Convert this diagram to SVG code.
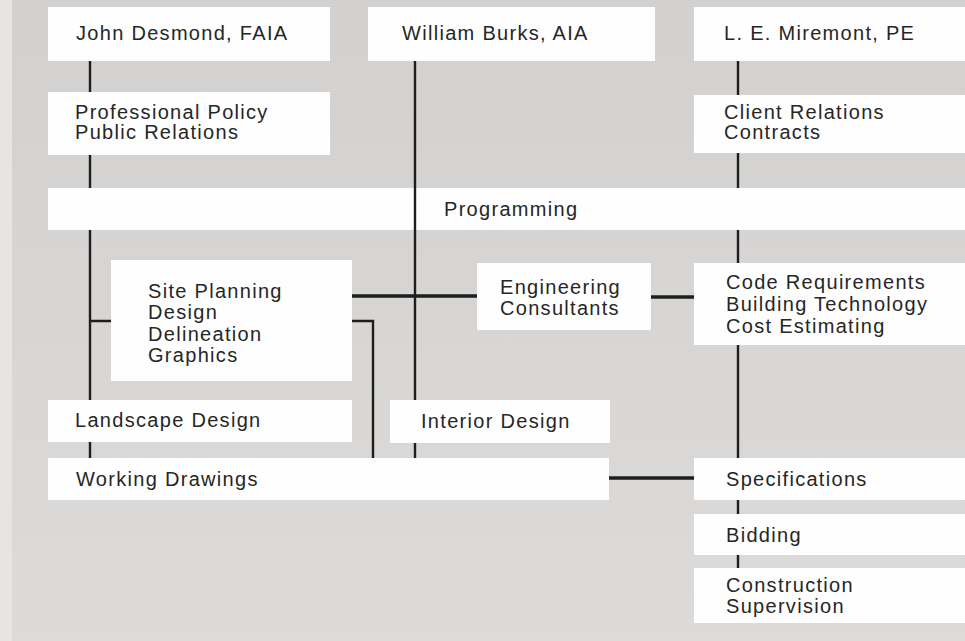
<svg xmlns="http://www.w3.org/2000/svg" width="965" height="641" viewBox="0 0 965 641">
<style>
.box{fill:#fefefe}
.t{font-family:"Liberation Sans",Arial,sans-serif;font-size:20px;fill:#262626;letter-spacing:1.3px}
.ln{stroke:#1e1e1e;stroke-width:2.4;fill:none}
.th{stroke:#1e1e1e;stroke-width:3.6;fill:none}
</style>
<defs>
<linearGradient id="bg" x1="0" y1="0" x2="0" y2="1">
<stop offset="0" stop-color="#d2d1d0"/>
<stop offset="1" stop-color="#dddbda"/>
</linearGradient>
</defs>
<rect width="965" height="641" fill="url(#bg)"/>
<rect x="0" y="0" width="12" height="641" fill="#e6e5e4"/>

<g id="connectors">
<!-- John Desmond line -->
<path class="ln" d="M90 60V92M90 154V189M90 229V401M90 321H112M90 441V459"/>
<!-- William Burks line -->
<path class="ln" d="M415 60V401M415 442V458"/>
<!-- Site planning bracket -->
<path class="ln" d="M352 321H373V459"/>
<!-- Miremont line -->
<path class="ln" d="M738 60V96M738 152V189M738 229V264M738 344V459M738 499V516M738 554V569"/>
<!-- thick horizontals -->
<path class="th" d="M352 296H478"/>
<path class="th" d="M650 297H695"/>
<path class="th" d="M609 478H695"/>
</g>

<g id="john-desmond"><rect class="box" x="48" y="7" width="282" height="54"/><text class="t" x="76" y="40">John Desmond, FAIA</text></g>
<g id="william-burks"><rect class="box" x="368" y="7" width="287" height="54"/><text class="t" x="402" y="40">William Burks, AIA</text></g>
<g id="le-miremont"><rect class="box" x="694" y="7" width="271" height="54"/><text class="t" x="724" y="40">L. E. Miremont, PE</text></g>

<g id="professional-policy"><rect class="box" x="48" y="92" width="282" height="63"/><text class="t" x="75" y="119">Professional Policy</text><text class="t" x="75" y="139">Public Relations</text></g>
<g id="client-relations"><rect class="box" x="694" y="95" width="271" height="58"/><text class="t" x="724" y="119">Client Relations</text><text class="t" x="724" y="139">Contracts</text></g>

<g id="programming"><rect class="box" x="48" y="188" width="917" height="42"/><text class="t" x="444" y="216">Programming</text></g>
<path class="ln" d="M415 188V230"/>

<g id="site-planning"><rect class="box" x="111" y="260" width="241" height="121"/><text class="t" x="148" y="298">Site Planning</text><text class="t" x="148" y="319">Design</text><text class="t" x="148" y="341">Delineation</text><text class="t" x="148" y="362">Graphics</text></g>
<g id="engineering-consultants"><rect class="box" x="477" y="263" width="174" height="67"/><text class="t" x="500" y="294">Engineering</text><text class="t" x="500" y="315">Consultants</text></g>
<g id="code-requirements"><rect class="box" x="694" y="263" width="271" height="82"/><text class="t" x="726" y="289">Code Requirements</text><text class="t" x="726" y="311">Building Technology</text><text class="t" x="726" y="333">Cost Estimating</text></g>

<g id="landscape-design"><rect class="box" x="48" y="400" width="304" height="42"/><text class="t" x="75" y="427">Landscape Design</text></g>
<g id="interior-design"><rect class="box" x="390" y="400" width="220" height="43"/><text class="t" x="421" y="428">Interior Design</text></g>

<g id="working-drawings"><rect class="box" x="48" y="458" width="561" height="42"/><text class="t" x="76" y="486">Working Drawings</text></g>
<g id="specifications"><rect class="box" x="694" y="458" width="271" height="42"/><text class="t" x="726" y="486">Specifications</text></g>
<g id="bidding"><rect class="box" x="694" y="514" width="271" height="41"/><text class="t" x="726" y="542">Bidding</text></g>
<g id="construction-supervision"><rect class="box" x="694" y="568" width="271" height="55"/><text class="t" x="726" y="592">Construction</text><text class="t" x="726" y="613">Supervision</text></g>
</svg>
